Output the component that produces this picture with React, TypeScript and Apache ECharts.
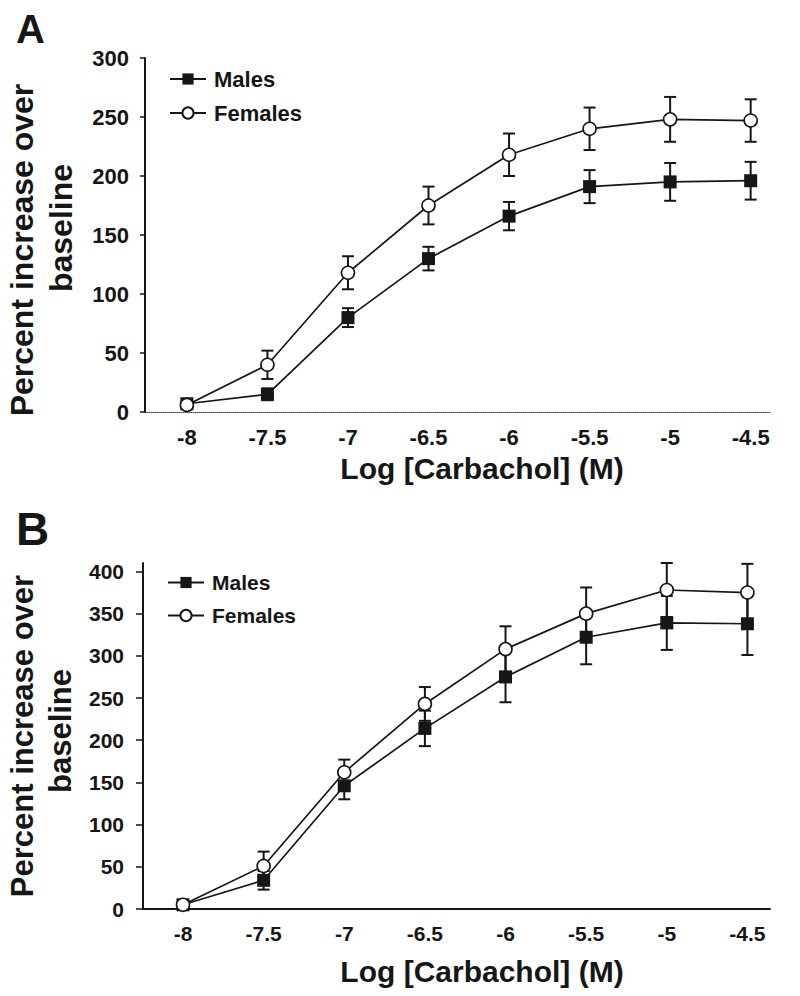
import React, { useEffect, useRef } from "react";
import * as echarts from "echarts";

// ---- Data ----
const logConc = [-8, -7.5, -7, -6.5, -6, -5.5, -5, -4.5];
const xTickLabels = [-8, -7.5, -7, -6.5, -6, -5.5, -5, -4.5];
const yTicksA = [0, 50, 100, 150, 200, 250, 300];
const yTicksB = [0, 50, 100, 150, 200, 250, 300, 350, 400];

const aMales = [7, 15, 80, 130, 166, 191, 195, 196];
const aMalesErr = [3, 5, 8, 10, 12, 14, 16, 16];
const aFemales = [6, 40, 118, 175, 218, 240, 248, 247];
const aFemalesErr = [3, 12, 14, 16, 18, 18, 19, 18];

const bMales = [5, 34, 146, 214, 275, 322, 339, 338];
const bMalesErr = [3, 11, 16, 21, 30, 32, 32, 37];
const bFemales = [5, 51, 162, 243, 308, 350, 378, 375];
const bFemalesErr = [3, 17, 15, 20, 27, 31, 32, 34];

const FONT = "'Liberation Sans', Arial, Helvetica, sans-serif";
const INK = "#161616";

const pts = (vals: number[]) => logConc.map((x, i) => [x, vals[i]]);
const errs = (vals: number[], e: number[]) =>
  logConc.map((x, i) => [x, vals[i] - e[i], vals[i] + e[i]]);

const renderErr = (params: any, api: any) => {
  const x = api.value(0);
  const lo = api.coord([x, api.value(1)]);
  const hi = api.coord([x, api.value(2)]);
  const cap = 6;
  const style = { stroke: INK, lineWidth: 2 };
  return {
    type: "group",
    children: [
      { type: "line", shape: { x1: lo[0], y1: lo[1], x2: hi[0], y2: hi[1] }, style },
      { type: "line", shape: { x1: lo[0] - cap, y1: lo[1], x2: lo[0] + cap, y2: lo[1] }, style },
      { type: "line", shape: { x1: hi[0] - cap, y1: hi[1], x2: hi[0] + cap, y2: hi[1] }, style },
    ],
  };
};

function lineSeries(name: string, data: number[], idx: number, female: boolean) {
  return {
    name,
    type: "line",
    xAxisIndex: idx,
    yAxisIndex: idx,
    data: pts(data),
    symbol: female ? "circle" : "rect",
    symbolSize: 13,
    z: female ? 4 : 3,
    lineStyle: { color: INK, width: 1.7 },
    itemStyle: {
      color: female ? "#ffffff" : INK,
      borderColor: INK,
      borderWidth: female ? 1.6 : 0,
    },
  };
}

function errSeries(name: string, data: number[], e: number[], idx: number) {
  return {
    name,
    type: "custom",
    xAxisIndex: idx,
    yAxisIndex: idx,
    data: errs(data, e),
    encode: { x: 0, y: [1, 2] },
    renderItem: renderErr,
    clip: false,
    z: 2,
  };
}

export default function App() {
  const ref = useRef<HTMLDivElement>(null);
  useEffect(() => {
    if (!ref.current) return;
    const chart = echarts.init(ref.current, undefined, { renderer: "svg" });
    const tickLabel = (size: number, margin: number) => ({
      fontSize: size,
      fontWeight: "bold",
      fontFamily: FONT,
      color: INK,
      margin,
    });
    const legendCommon = {
      data: ["Males", "Females"],
      orient: "vertical",
      itemWidth: 36,
      itemHeight: 14,
      itemGap: 12,
      padding: 0,
      selectedMode: false,
      textStyle: { fontSize: 22, fontWeight: "bold", fontFamily: FONT, color: INK, padding: [0, 0, 0, 3] },
    };
    chart.setOption({
      animation: false,
      backgroundColor: "#ffffff",
      grid: [
        { left: 145, right: 30, top: 58, height: 354 },
        { left: 143, right: 30, top: 563, height: 346 },
      ],
      xAxis: [
        {
          type: "value",
          gridIndex: 0,
          min: -8.26,
          max: -4.38,
          splitLine: { show: false },
          axisTick: { show: false },
          axisLine: { lineStyle: { color: "#444", width: 1, type: "dotted" } },
          axisLabel: { ...tickLabel(22, 14), customValues: xTickLabels },
        },
        {
          type: "value",
          gridIndex: 1,
          min: -8.248,
          max: -4.36,
          splitLine: { show: false },
          axisTick: { show: false },
          axisLine: { lineStyle: { color: INK, width: 2 } },
          axisLabel: { ...tickLabel(21, 14), customValues: xTickLabels },
        },
      ],
      yAxis: [
        {
          type: "value",
          gridIndex: 0,
          min: 0,
          max: 300,
          interval: 50,
          splitLine: { show: false },
          axisLine: { show: true, lineStyle: { color: INK, width: 2 } },
          axisTick: { show: true, length: 5, lineStyle: { color: INK, width: 1.5 }, customValues: yTicksA },
          axisLabel: { ...tickLabel(22, 16), customValues: yTicksA },
        },
        {
          type: "value",
          gridIndex: 1,
          min: 0,
          max: 410,
          interval: 50,
          splitLine: { show: false },
          axisLine: { show: true, lineStyle: { color: INK, width: 2 } },
          axisTick: { show: true, length: 7, lineStyle: { color: INK, width: 1.5 }, customValues: yTicksB },
          axisLabel: { ...tickLabel(21, 19), customValues: yTicksB },
        },
      ],
      legend: [
        { ...legendCommon, left: 169, top: 68 },
        { ...legendCommon, left: 167, top: 572, textStyle: { ...legendCommon.textStyle, fontSize: 21 } },
      ],
      series: [
        errSeries("Males SEM A", aMales, aMalesErr, 0),
        errSeries("Females SEM A", aFemales, aFemalesErr, 0),
        lineSeries("Males", aMales, 0, false),
        lineSeries("Females", aFemales, 0, true),
        errSeries("Males SEM B", bMales, bMalesErr, 1),
        errSeries("Females SEM B", bFemales, bFemalesErr, 1),
        lineSeries("Males", bMales, 1, false),
        lineSeries("Females", bFemales, 1, true),
      ],
      graphic: [
        { type: "text", x: 16, y: 29, style: { text: "A", font: `bold 40px ${FONT}`, fill: INK, textVerticalAlign: "middle" } },
        { type: "text", x: 16, y: 529, style: { text: "B", font: `bold 46px ${FONT}`, fill: INK, textVerticalAlign: "middle" } },
        { type: "text", x: 22, y: 250, rotation: Math.PI / 2, style: { text: "Percent increase over", font: `bold 32px ${FONT}`, fill: INK, textAlign: "center", textVerticalAlign: "middle" } },
        { type: "text", x: 61, y: 228, rotation: Math.PI / 2, style: { text: "baseline", font: `bold 32px ${FONT}`, fill: INK, textAlign: "center", textVerticalAlign: "middle" } },
        { type: "text", x: 22, y: 736, rotation: Math.PI / 2, style: { text: "Percent increase over", font: `bold 31px ${FONT}`, fill: INK, textAlign: "center", textVerticalAlign: "middle" } },
        { type: "text", x: 60, y: 731, rotation: Math.PI / 2, style: { text: "baseline", font: `bold 31px ${FONT}`, fill: INK, textAlign: "center", textVerticalAlign: "middle" } },
        { type: "text", x: 482, y: 468, style: { text: "Log [Carbachol] (M)", font: `bold 30px ${FONT}`, fill: INK, textAlign: "center", textVerticalAlign: "middle" } },
        { type: "text", x: 482, y: 971, style: { text: "Log [Carbachol] (M)", font: `bold 30px ${FONT}`, fill: INK, textAlign: "center", textVerticalAlign: "middle" } },
      ],
    });
    return () => chart.dispose();
  }, []);
  return <div ref={ref} style={{ position: "absolute", left: 0, top: 0, width: 800, height: 996 }} />;
}
